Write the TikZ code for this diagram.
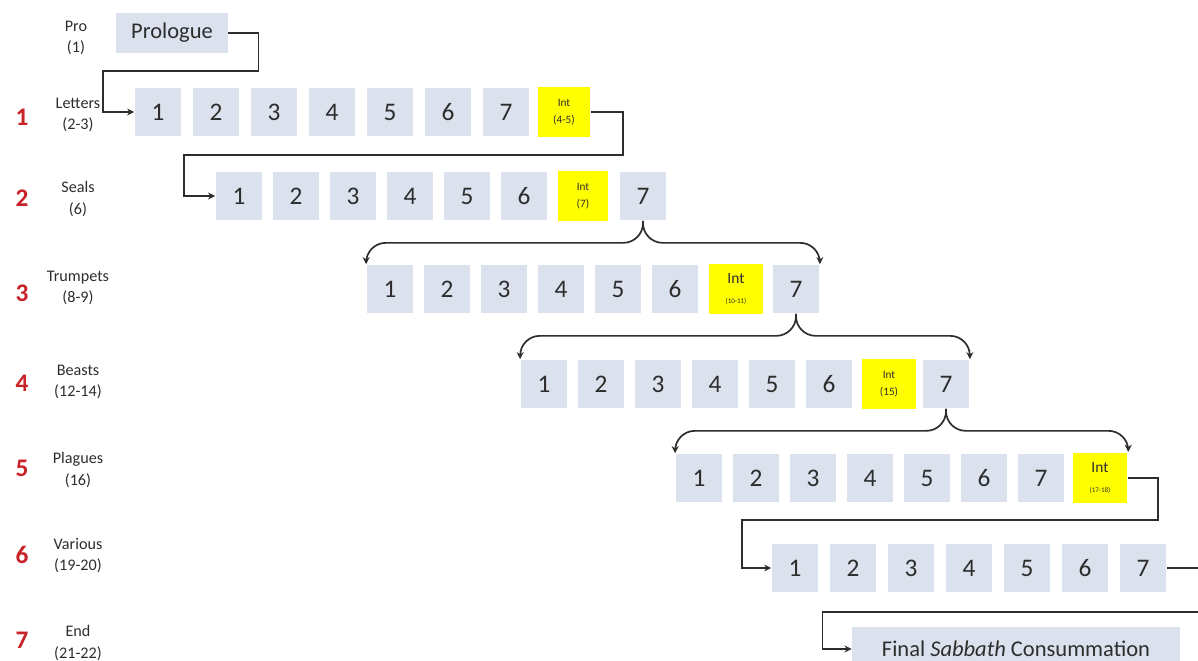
\documentclass[tikz,border=0pt]{standalone}
\usepackage{fontspec}
\setmainfont{Carlito}
\usepackage{xcolor}
\usepackage{tikz}
\usetikzlibrary{arrows.meta}
\usetikzlibrary{calc}
\definecolor{slate}{RGB}{219,226,238}
\definecolor{intyellow}{RGB}{255,255,0}
\definecolor{rowred}{RGB}{200,35,40}
\definecolor{ink}{RGB}{45,45,45}
\newcommand{\boxcolor}{slate}

\begin{document}
\begin{tikzpicture}[x=0.025cm, y=-0.025cm, line width=1.2pt,
	box/.style={fill=\boxcolor, text=ink, inner sep=0pt,
		minimum width=1.15cm, minimum height=1.2cm,
		font=\fontsize{18}{18}\selectfont},
	intbox/.style={box, fill=intyellow, align=center,
		minimum width=1.32cm, minimum height=1.27cm,
		font=\fontsize{8}{12}\selectfont},
	rownum/.style={text=rowred, font=\fontsize{18}{18}\selectfont\bfseries},
	rowname/.style={text=ink, align=center, font=\fontsize{11.5}{15}\selectfont},
	link/.style={-{Stealth[length=5pt,width=5pt]}, ink},
	brace/.style={link, rounded corners=14}]
	\useasboundingbox (0,0) rectangle (1198,661);

	% row labels
	\node[rowname] (name0) at (76,38) {Pro\\(1)};
	\foreach \k/\yn/\yl/\name/\ch in {1/117/115/Letters/{(2-3)},
		2/198/199/Seals/{(6)}, 3/293/288/Trumpets/{(8-9)},
		4/383/382/Beasts/{(12-14)}, 5/468/470/Plagues/{(16)},
		6/555/556/Various/{(19-20)}, 7/640/643/End/{(21-22)}} {
		\node[rownum] (num\k) at (22,\yn) {\k};
		\node[rowname] (name\k) at (78,\yl) {\name\\\ch};
	}

	\node[box, minimum width=2.78cm, minimum height=1cm,
		font=\fontsize{16}{16}\selectfont] (pro) at (172,33) {Prologue};

	% letters
	\foreach \i in {1,...,7}
		\node[box] (r1-\i) at ({100+58*\i},112) {\i};
	\node[intbox] (r1-int) at (564,112) {Int\\(4-5)};

	% seals
	\foreach \i in {1,...,6}
		\node[box] (r2-\i) at ({182+57*\i},196) {\i};
	\node[intbox, minimum width=1.27cm] (r2-int) at (583,196) {Int\\(7)};
	\node[box] (r2-7) at (643,196) {7};

	% trumpets
	\foreach \i in {1,...,6}
		\node[box] (r3-\i) at ({333+57*\i},289) {\i};
	\node[intbox, minimum width=1.37cm, font=\fontsize{11}{14}\selectfont]
		(r3-int) at (736,289) {Int\\{\fontsize{5}{5}\selectfont (10-11)}};
	\node[box] (r3-7) at (796,289) {7};

	% beasts
	\foreach \i in {1,...,6}
		\node[box] (r4-\i) at ({487+57*\i},384) {\i};
	\node[intbox, minimum width=1.37cm] (r4-int) at (889,384) {Int\\(15)};
	\node[box] (r4-7) at (946,384) {7};

	% plagues
	\foreach \i in {1,...,7}
		\node[box] (r5-\i) at ({642+57*\i},478) {\i};
	\node[intbox, minimum width=1.37cm, font=\fontsize{11}{14}\selectfont]
		(r5-int) at (1100,478) {Int\\{\fontsize{5}{5}\selectfont (17-18)}};

	% various
	\foreach \i in {1,...,7}
		\node[box] (r6-\i) at ({737+58*\i},568) {\i};

	\node[box, minimum width=8.18cm, minimum height=1.1cm,
		font=\fontsize{16}{16}\selectfont]
		(fin) at (1016,649) {Final \textit{Sabbath} Consummation};

	% elbows
	\draw[link] (pro.east) -| ++(30,38) -| ($(r1-1.west)+(-31,0)$)
		-- (r1-1.west);
	\draw[link] (r1-int.east) -| ++(32,43) -| ($(r2-1.west)+(-31,0)$)
		-- (r2-1.west);
	\draw[link] (r5-int.east) -| ++(30,42) -| ($(r6-1.west)+(-29,0)$)
		-- (r6-1.west);
	\draw[link] (r6-7.east) -| ++(40,44) -| ($(fin.west)+(-29,0)$)
		-- (fin.west);

	% braces
	\draw[brace] (r2-7.south) -- ++(0,22) -| (r3-1.north west);
	\draw[brace] (r2-7.south) -- ++(0,22) -| (r3-7.north east);
	\draw[brace] (r3-7.south) -- ++(0,22) -| (r4-1.north west);
	\draw[brace] (r3-7.south) -- ++(0,22) -| (r4-7.north east);
	\draw[brace] (r4-7.south) -- ++(0,22) -| (r5-1.north west);
	\draw[brace] (r4-7.south) -- ++(0,22) -| (r5-int.north east);

\end{tikzpicture}
\end{document}
